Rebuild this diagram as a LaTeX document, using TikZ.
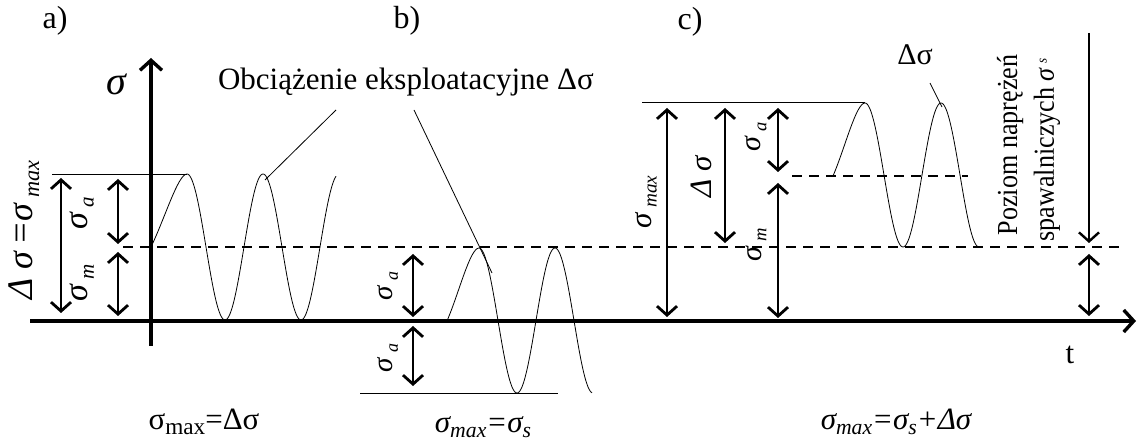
\documentclass[tikz,border=0pt]{standalone}
\usepackage{fontspec}
\usepackage{graphicx}
\setmainfont{Liberation Serif}
\usetikzlibrary{arrows.meta}
\newcommand{\lowsub}[2][0.62]{\raisebox{-0.18em}{\scalebox{#1}{#2}}}
\newcommand{\fs}[1]{\fontsize{#1}{#1}\selectfont}
\begin{document}
\begin{tikzpicture}[x=1pt,y=-1pt,
  axis/.style={line width=3.4pt,-{Straight Barb[length=10pt,width=22pt]}},
  dbl/.style={line width=2.8pt,{Straight Barb[length=9pt,width=20pt]}-{Straight Barb[length=9pt,width=20pt]}},
  sgl/.style={line width=2.4pt,-{Straight Barb[length=9pt,width=20pt]}},
  thinline/.style={line width=0.9pt},
  wave/.style={line width=0.8pt},
  dashline/.style={line width=1.1pt,dash pattern=on 10pt off 7pt},
  leader/.style={line width=0.8pt},
  txt/.style={inner sep=0pt,outer sep=0pt},
  rot/.style={inner sep=0pt,outer sep=0pt,rotate=90}
]
\useasboundingbox (0,0) rectangle (1138,446);

% axes
\coordinate (yb) at (151,346); \coordinate (yt) at (151,58);
\draw[axis] (yb) -- (yt);
\coordinate (xl) at (30,321); \coordinate (xr) at (1136,321);
\draw[axis] (xl) -- (xr);

% reference lines
\draw[dashline] (123,247) -- (1125,247);
\draw[dashline] (792,176) -- (968,176);
\draw[thinline] (52,174) -- (187,174);
\draw[thinline] (360,393) -- (558,393);
\draw[thinline] (642,102) -- (865,102);

% waves
\draw[wave] (151,247) .. controls (165,218) and (178,174) .. (187,174)
  -- plot[domain=0:149,samples=150] ({187+\x},{247-73*cos(4.7368*\x)});
\draw[wave] (447,321) .. controls (459,293) and (470,248) .. (479,248)
  -- plot[domain=0:113,samples=120] ({479+\x},{320.5-72.5*cos(4.7368*\x)});
\draw[wave] (833,176) .. controls (845,148) and (856,103) .. (865,103)
  -- plot[domain=0:113,samples=120] ({865+\x},{175-72*cos(4.7368*\x)});

% double arrows a)
\draw[dbl] (61,178) -- (61,313);
\draw[dbl] (118,179) -- (118,244);
\draw[dbl] (118,252) -- (118,316);
% b)
\draw[dbl] (413,254) -- (413,317);
\draw[dbl] (413,326) -- (413,386);
% c)
\draw[dbl] (667,108) -- (667,317);
\draw[dbl] (725,108) -- (725,243);
\draw[dbl] (778,108) -- (778,172);
\draw[dbl] (778,183) -- (778,318);
% right
\coordinate (st) at (1089,33); \coordinate (sb) at (1089,243);
\draw[sgl] (st) -- (sb);
\draw[dbl] (1089,254) -- (1089,316);

% labels
\node[txt,font=\fs{32}] (la) at (55,21) {a)};
\node[txt,font=\fs{32}] (lb) at (407,21) {b)};
\node[txt,font=\fs{32}] (lc) at (690,22) {c)};
\node[txt,font=\fs{40}\itshape] (sig) at (116,84) {σ};
\node[txt,font=\fs{31}] (tt) at (1070,355) {t};

\node[txt,font=\fs{31},anchor=base west] (obc) at (218,90) {Obciążenie eksploatacyjne Δσ};
\coordinate (pa) at (336,110); \coordinate (qa) at (265,180);
\coordinate (pb) at (414,110); \coordinate (qb) at (492,273);
\draw[leader] (pa) -- (qa);
\draw[leader] (pb) -- (qb);

\node[txt,font=\fs{30}] (ds) at (915,55) {Δσ};
\coordinate (pc) at (930,83); \coordinate (qc) at (942,107);
\draw[leader] (pc) -- (qc);

% rotated labels a)
\node[rot,font=\fs{36}\itshape] (ra1) at (24,230) {Δ σ\,=σ\,\lowsub{max}};
\node[rot,font=\fs{34}\itshape] (ra2) at (82,213) {σ\,\lowsub{a}};
\node[rot,font=\fs{34}\itshape] (ra3) at (82,283) {σ\,\lowsub{m}};
% b)
\node[rot,font=\fs{29}\itshape] (rb1) at (388,286) {σ\,\lowsub{a}};
\node[rot,font=\fs{29}\itshape] (rb2) at (388,358) {σ\,\lowsub{a}};
% c)
\node[rot,font=\fs{31}\itshape] (rc1) at (646,202) {σ\,\lowsub{max}};
\node[rot,font=\fs{31}\itshape] (rc2) at (701,177) {Δ σ};
\node[rot,font=\fs{30}\itshape] (rc3) at (756,137) {σ\,\lowsub{a}};
\node[rot,font=\fs{30}\itshape] (rc4) at (756,245) {σ\,\lowsub{m}};
\node[rot,font=\fs{29}] (pz1) at (1010,145) {\scalebox{0.9}[1]{Poziom naprężeń}};
\node[rot,font=\fs{29}] (pz2) at (1047,150) {\scalebox{0.9}[1]{spawalniczych {\itshape σ\,\raisebox{0.25em}{\scalebox{0.5}{s}}}}};

% formulas
\node[txt,font=\fs{31}] (fa) at (204,422) {σ\lowsub[0.75]{max}=Δσ};
\node[txt,font=\fs{31}\itshape] (fb) at (483,427) {σ\lowsub[0.7]{max}=σ\lowsub[0.7]{s}};
\node[txt,font=\fs{31}\itshape] (fc) at (896,422) {σ\lowsub[0.7]{max}=σ\lowsub[0.7]{s}+Δσ};
\end{tikzpicture}
\end{document}
